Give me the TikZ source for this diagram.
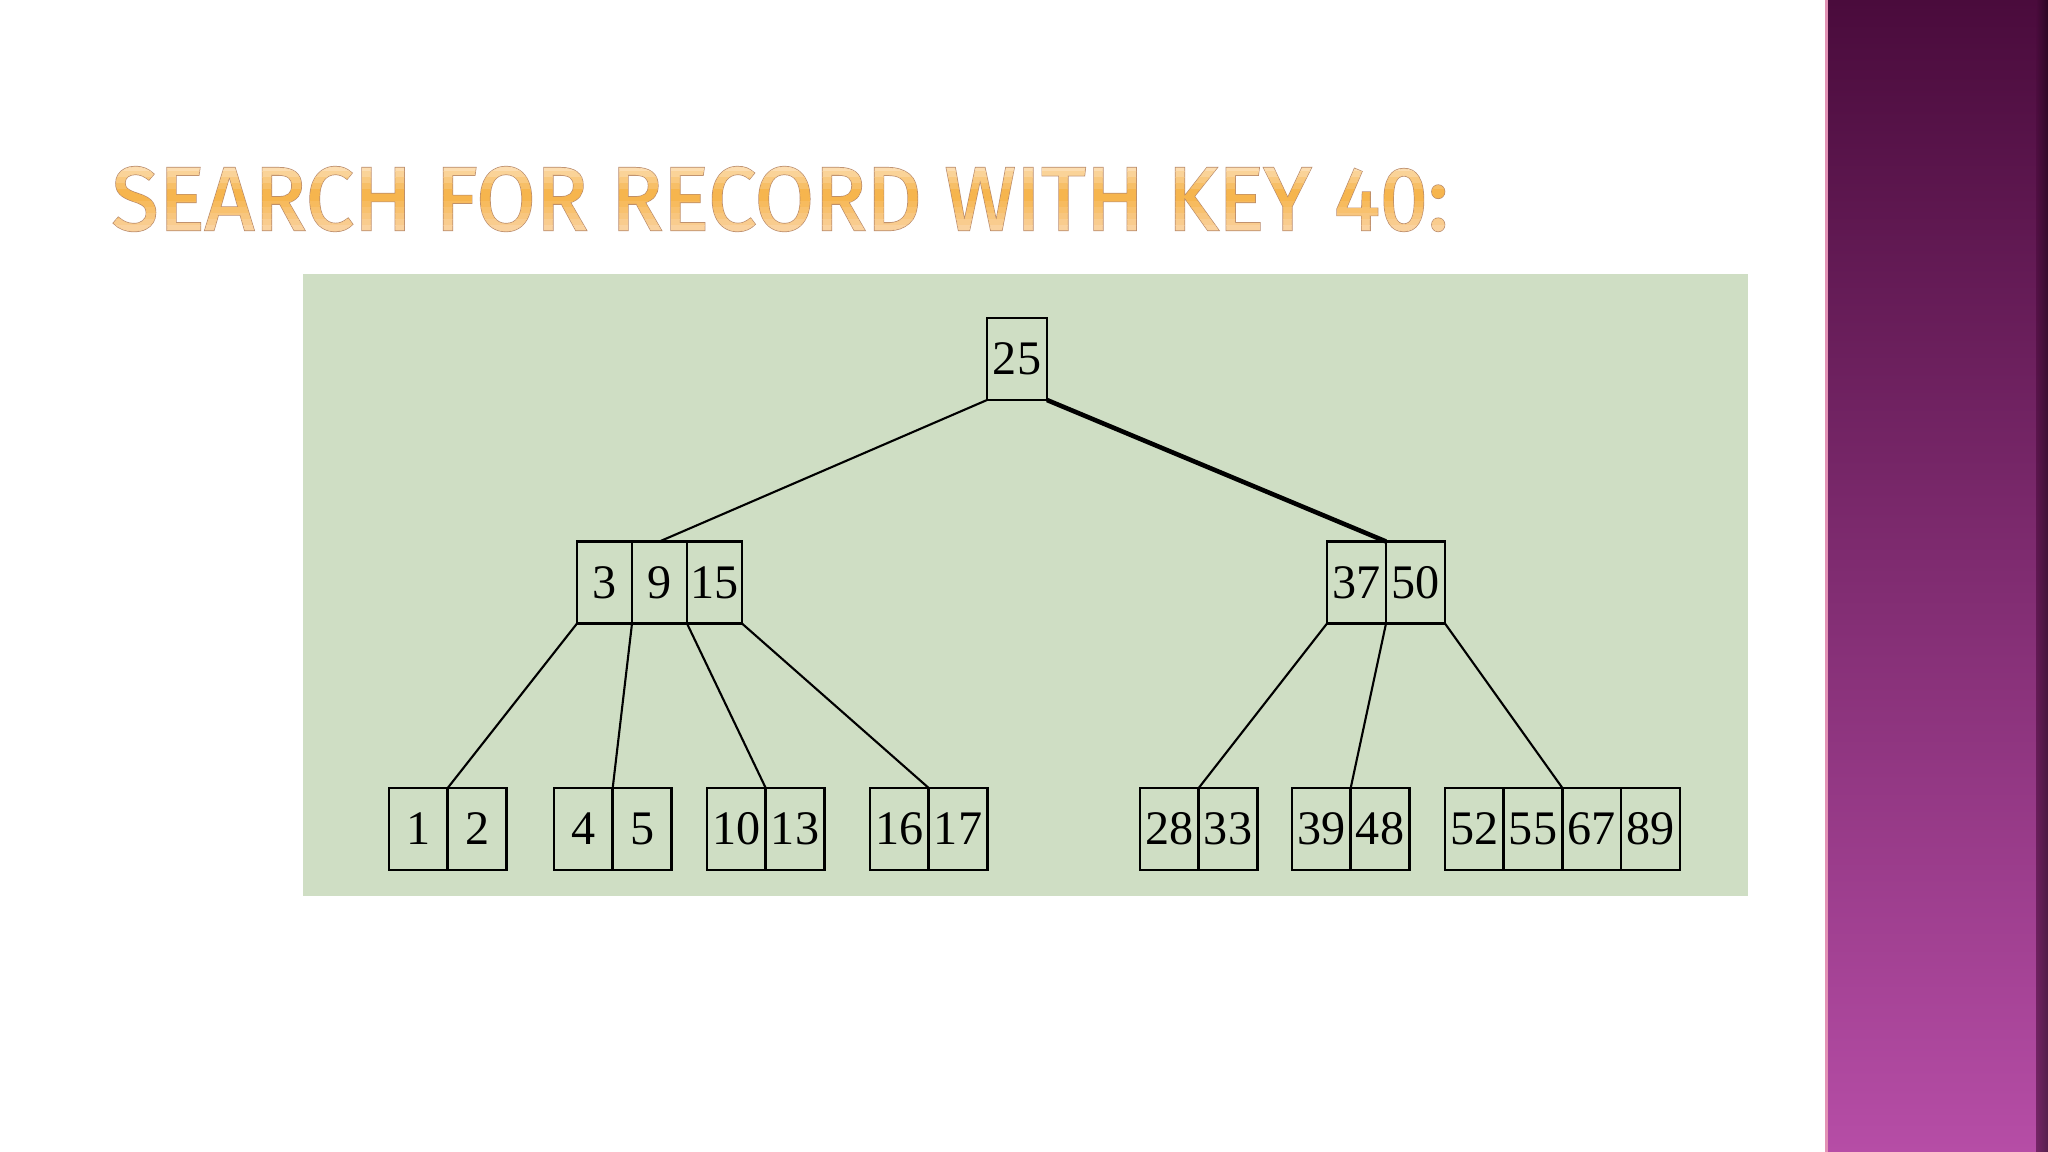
\documentclass[tikz,border=0pt]{standalone}
\usepackage{fontspec}
\usepackage{graphicx}
\setmainfont{Liberation Serif}
\newfontfamily\titlefont{Fira Sans}[FakeBold=0.8]
\newfontfamily\titleedge{Fira Sans}[FakeBold=2.4]
\definecolor{panel}{HTML}{CFDEC4}
\definecolor{tA}{HTML}{FDE7C9}
\definecolor{tB}{HTML}{F6B54E}
\definecolor{tC}{HTML}{FAD29E}
\definecolor{tedge}{HTML}{B98A6A}
\definecolor{bartop}{HTML}{4A0B3C}
\definecolor{barbot}{HTML}{B64DA6}
\tikzset{
    cell/.style={draw, line width=0.7pt, inner sep=0pt, outer sep=0pt,
        minimum height=0.82cm, font=\fontsize{13.7}{15}\selectfont},
    link/.style={line width=0.6pt},
    searchpath/.style={line width=1.3pt},
    headline/.style={anchor=base west, inner sep=0pt}
}
% one B-tree node: name, left x, centre y, cell width, keys
\newcommand{\keyrow}[5]{
    \foreach \k [count=\i] in {#5}
    \node[cell, minimum width={#4*0.01cm}] (#1-\i) at ({#2+(\i-0.5)*#4},#3) {\k};
}
\newcommand{\titletext}{SEARCH FOR RECORD WITH KEY 40:}

\begin{document}
\begin{tikzpicture}[x=0.01cm,y=-0.01cm]
        \useasboundingbox (0,0) rectangle (2048,1152);
        \fill[white] (0,0) rectangle (2048,1152);
        % side bar
        \shade[top color=bartop, bottom color=barbot] (1825,0) rectangle (2048,1152);
        \fill[pink!60!barbot] (1825,0) rectangle (1828,1152);
        \shade[left color=barbot!0!bartop, right color=black!70!bartop, opacity=0.6] (2036,0) rectangle (2048,1152);
        % title, outline first and then the banded fill
        \node[headline, text=tedge] (title) at (111,230)
            {\resizebox{13.36cm}{0.63cm}{\titleedge\titletext}};
        \foreach \i/\c in {0/tA!100!tB,1/tA!80!tB,2/tA!60!tB,3/tA!40!tB,4/tA!20!tB,5/tB,
                           6/tB,7/tC!20!tB,8/tC!40!tB,9/tC!60!tB,10/tC!80!tB,11/tC} {
            \begin{scope}
            \clip (100,{160+\i*6}) rectangle (1460,{166+\i*6+(\i==11)*20});
            \node[headline, text=\c] (title-\i) at (111,230)
                {\resizebox{13.36cm}{0.63cm}{\titlefont\titletext}};
            \end{scope}
        }
        \fill[panel] (303,274) rectangle (1748,896);
        % nodes
        \keyrow{root}{987}{359}{60}{25}
        \keyrow{a}{577}{582.5}{55}{3,9,15}
        \keyrow{b}{1327}{582.5}{59}{37,50}
        \keyrow{l1}{389}{829}{58.7}{1,2}
        \keyrow{l2}{554}{829}{58.7}{4,5}
        \keyrow{l3}{707}{829}{58.7}{10,13}
        \keyrow{l4}{870}{829}{58.7}{16,17}
        \keyrow{l5}{1140}{829}{58.7}{28,33}
        \keyrow{l6}{1292}{829}{58.7}{39,48}
        \keyrow{l7}{1445}{829}{58.7}{52,55,67,89}
        % links
        \draw[link] (root-1.south west) -- (a-2.north);
        \draw[searchpath] (root-1.south east) -- (b-1.north east);
        \draw[link] (a-1.south west) -- (l1-1.north east);
        \draw[link] (a-1.south east) -- (l2-1.north east);
        \draw[link] (a-2.south east) -- (l3-1.north east);
        \draw[link] (a-3.south east) -- (l4-1.north east);
        \draw[link] (b-1.south west) -- (l5-1.north east);
        \draw[link] (b-1.south east) -- (l6-1.north east);
        \draw[link] (b-2.south east) -- (l7-2.north east);
\end{tikzpicture}
\end{document}
